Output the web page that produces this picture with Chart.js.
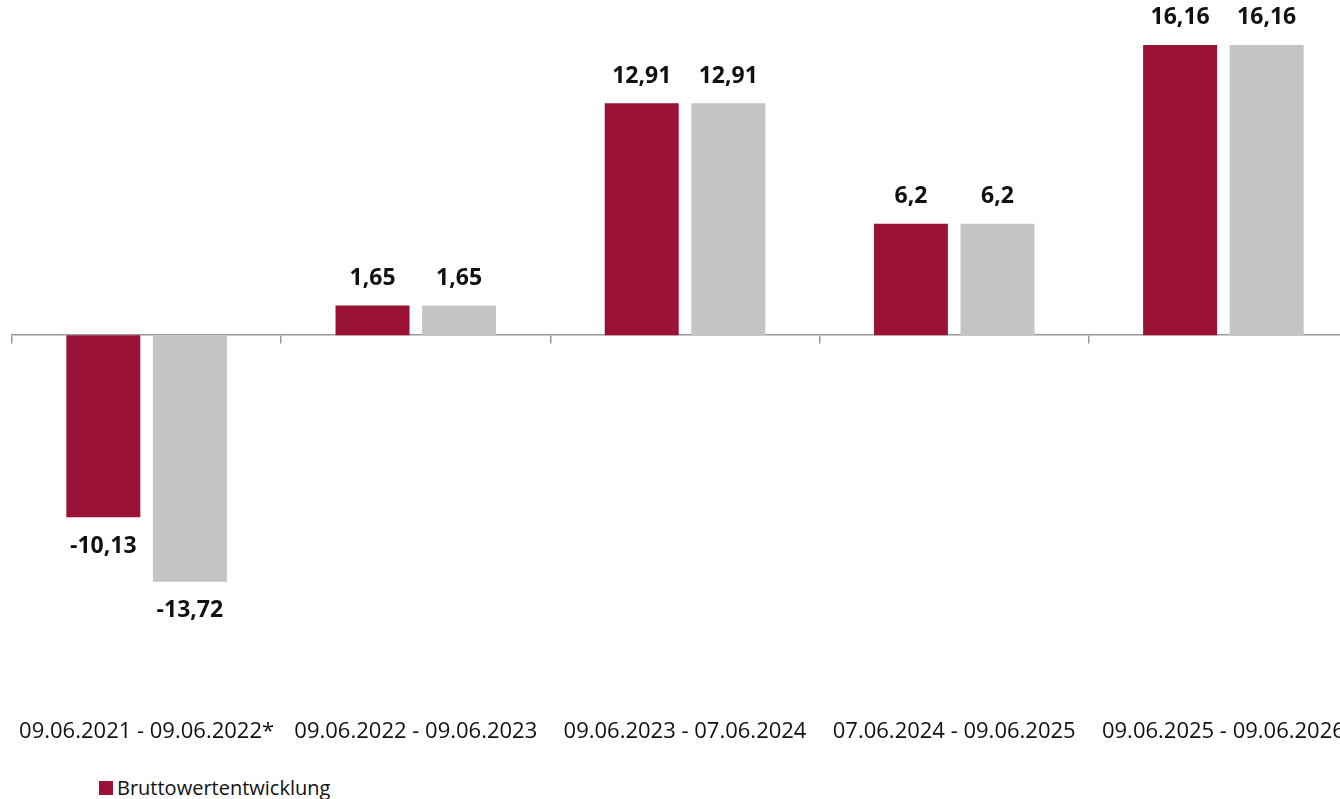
<!DOCTYPE html>
<html>
<head>
<meta charset="utf-8">
<script src="https://cdn.jsdelivr.net/npm/chart.js@4.4.1/dist/chart.umd.min.js"></script>
<style>
    html, body { margin: 0; padding: 0; background: #fff; overflow: hidden; }
    body { width: 1340px; height: 799px; position: relative; font-family: "Open Sans", sans-serif; }
    #wrap { position: absolute; left: 0; top: 0; width: 1372px; height: 749px; }
    #legend { position: absolute; left: 99px; top: 774px; font-size: 20px; color: #111; display: flex; align-items: center; }
    #legend .box { width: 14px; height: 14px; background: #9b1237; margin-right: 4px; }
</style>
</head>
<body>
<div id="wrap"><canvas id="returnChart"></canvas></div>
<div id="legend"><span class="box"></span><span>Bruttowertentwicklung</span></div>
<script>
// ============ DATA ============
const periods = [
    '09.06.2021 - 09.06.2022*',
    '09.06.2022 - 09.06.2023',
    '09.06.2023 - 07.06.2024',
    '07.06.2024 - 09.06.2025',
    '09.06.2025 - 09.06.2026'
];
const bruttoValues = [-10.13, 1.65, 12.91, 6.2, 16.16];
const nettoValues = [-13.72, 1.65, 12.91, 6.2, 16.16];

const RED = '#9b1237';
const GREY = '#c4c4c4';

// ============ VALUE LABELS ============
const valueLabels = {
    id: 'valueLabels',
    afterDatasetsDraw(chart) {
        const ctx = chart.ctx;
        ctx.save();
        ctx.font = 'bold 23px "Open Sans", sans-serif';
        ctx.fillStyle = '#111';
        ctx.textAlign = 'center';
        ctx.textBaseline = 'middle';
        chart.data.datasets.forEach((ds, i) => {
            const meta = chart.getDatasetMeta(i);
            meta.data.forEach((bar, j) => {
                const v = ds.data[j];
                const text = String(v).replace('.', ',');
                const y = v >= 0 ? bar.y - 27 : bar.y + 29;
                ctx.fillText(text, bar.x, y);
            });
        });
        ctx.restore();
    }
};

// ============ CHART ============
const ctx = document.getElementById('returnChart').getContext('2d');
new Chart(ctx, {
    type: 'bar',
    data: {
        labels: periods,
        datasets: [
            { label: 'Bruttowertentwicklung', data: bruttoValues, backgroundColor: RED, borderWidth: 0 },
            { label: 'Nettowertentwicklung', data: nettoValues, backgroundColor: GREY, borderWidth: 0 }
        ]
    },
    options: {
        responsive: true,
        maintainAspectRatio: false,
        animation: false,
        layout: { padding: { left: 12, right: 14, top: 0, bottom: 0 } },
        datasets: { bar: { categoryPercentage: 0.643, barPercentage: 0.855 } },
        plugins: {
            legend: { display: false },
            tooltip: { enabled: false }
        },
        scales: {
            y: {
                display: false,
                min: -20.67,
                max: 18.66
            },
            x: {
                position: { y: 0 },
                offset: true,
                ticks: { display: false },
                grid: { offset: true, drawOnChartArea: false, tickLength: 8, color: '#999', lineWidth: 1.5 },
                border: { display: true, color: '#999', width: 1.5 }
            },
            x2: {
                type: 'category',
                labels: periods,
                position: 'bottom',
                offset: true,
                grid: { display: false },
                border: { display: false },
                ticks: {
                    autoSkip: false,
                    maxRotation: 0,
                    padding: 4,
                    color: '#111',
                    font: { family: '"Open Sans", sans-serif', size: 22 }
                }
            }
        }
    },
    plugins: [valueLabels]
});
</script>
</body>
</html>
